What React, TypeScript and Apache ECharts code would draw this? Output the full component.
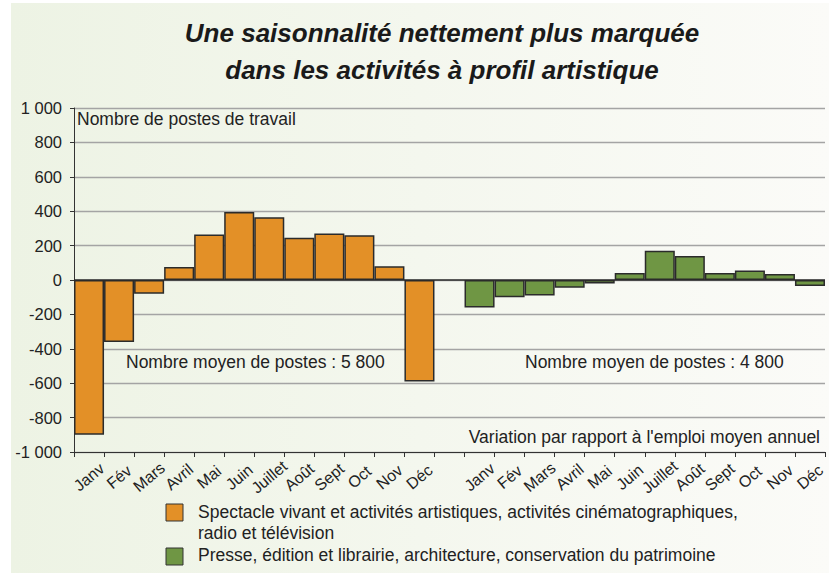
import React, { useEffect, useRef } from "react";
import * as echarts from "echarts";

const months = ["Janv", "Fév", "Mars", "Avril", "Mai", "Juin", "Juillet", "Août", "Sept", "Oct", "Nov", "Déc"];
const categories = [...months, "", ...months];
const spectacle = [-900, -360, -80, 75, 265, 395, 365, 245, 270, 260, 80, -590];
const presse = [-160, -100, -90, -45, -20, 40, 170, 140, 40, 55, 35, -35];
const yTicks = { min: -1000, max: 1000, interval: 200 };
const titleText = "Une saisonnalité nettement plus marquée\ndans les activités à profil artistique";
const seriesNames = [
  "Spectacle vivant et activités artistiques, activités cinématographiques,\nradio et télévision",
  "Presse, édition et librairie, architecture, conservation du patrimoine",
];

const FONT = "'Liberation Sans', Arial, sans-serif";
const ORANGE = "#E39027";
const GREEN = "#6F9644";
const TXT = 17.5;

function fmt(v: number) {
  const s = Math.abs(v).toString().replace(/\B(?=(\d{3})+(?!\d))/g, " ");
  return (v < 0 ? "-" : "") + s;
}

export default function App() {
  const ref = useRef<HTMLDivElement>(null);
  useEffect(() => {
    if (!ref.current) return;
    const chart = echarts.init(ref.current, null, { renderer: "svg" });
    const pad = (n: number) => Array(n).fill(null);
    const option: any = {
      animation: false,
      textStyle: { fontFamily: FONT },
      title: {
        text: titleText,
        left: 437,
        top: 9,
        textAlign: "center",
        textStyle: {
          fontFamily: FONT,
          fontSize: 26,
          fontStyle: "italic",
          fontWeight: "bold",
          lineHeight: 37,
          color: "#1a1a1a",
        },
      },
      grid: { left: 74, right: 4, top: 108, bottom: 121 },
      xAxis: {
        type: "category",
        data: categories,
        boundaryGap: true,
        axisLine: { onZero: false, lineStyle: { color: "#333", width: 1 } },
        axisTick: { show: true, alignWithLabel: false, length: 5, lineStyle: { color: "#333" } },
        axisLabel: {
          interval: 0,
          rotate: 40,
          align: "center",
          verticalAlign: "middle",
          margin: 25,
          fontSize: 16,
          color: "#222",
          fontFamily: FONT,
        },
      },
      yAxis: {
        type: "value",
        min: yTicks.min,
        max: yTicks.max,
        interval: yTicks.interval,
        axisLine: { show: true, lineStyle: { color: "#333", width: 1 } },
        axisTick: { show: true, length: 4, lineStyle: { color: "#333" } },
        axisLabel: { formatter: fmt, fontSize: 16.5, color: "#222", margin: 12, fontFamily: FONT },
        splitLine: { lineStyle: { color: "#a4a4a4", width: 1.3 } },
      },
      graphic: [
        {
          type: "rect",
          z: -10,
          silent: true,
          shape: { x: 11, y: 3, width: 818, height: 570 },
          style: {
            fill: new echarts.graphic.LinearGradient(0, 0, 1, 0, [
              { offset: 0, color: "#edf3e4" },
              { offset: 1, color: "#fbfbf8" },
            ]),
          },
        },
        {
          type: "text",
          left: 77,
          top: 110,
          style: { text: "Nombre de postes de travail", font: `${TXT}px ${FONT}`, fill: "#222" },
        },
        {
          type: "text",
          left: 126,
          top: 353,
          style: { text: "Nombre moyen de postes : 5 800", font: `${TXT}px ${FONT}`, fill: "#222" },
        },
        {
          type: "text",
          left: 525,
          top: 353,
          style: { text: "Nombre moyen de postes : 4 800", font: `${TXT}px ${FONT}`, fill: "#222" },
        },
        {
          type: "text",
          right: 9,
          top: 428,
          style: { text: "Variation par rapport à l'emploi moyen annuel", font: `${TXT}px ${FONT}`, fill: "#222" },
        },
        {
          type: "rect",
          shape: { x: 166, y: 504, width: 17, height: 17 },
          style: { fill: ORANGE, stroke: "#333", lineWidth: 1 },
        },
        {
          type: "text",
          left: 198,
          top: 501,
          style: { text: seriesNames[0], font: `${TXT}px ${FONT}`, fill: "#222", lineHeight: 21 },
        },
        {
          type: "rect",
          shape: { x: 166, y: 548, width: 17, height: 17 },
          style: { fill: GREEN, stroke: "#333", lineWidth: 1 },
        },
        {
          type: "text",
          left: 198,
          top: 546,
          style: { text: seriesNames[1], font: `${TXT}px ${FONT}`, fill: "#222" },
        },
      ],
      series: [
        {
          name: seriesNames[0],
          type: "bar",
          stack: "s",
          barWidth: "100%",
          data: [...spectacle, ...pad(13)],
          itemStyle: { color: ORANGE, borderColor: "#2b2b2b", borderWidth: 1.5 },
          markLine: {
            silent: true,
            symbol: "none",
            label: { show: false },
            lineStyle: { color: "#2b2b2b", width: 1.5, type: "solid" },
            data: [{ yAxis: 0 }],
          },
        },
        {
          name: seriesNames[1],
          type: "bar",
          stack: "s",
          barWidth: "100%",
          data: [...pad(13), ...presse],
          itemStyle: { color: GREEN, borderColor: "#2b2b2b", borderWidth: 1.5 },
        },
      ],
    };
    chart.setOption(option);
    return () => chart.dispose();
  }, []);
  return (
    <div
      ref={ref}
      style={{ position: "fixed", left: 0, top: 0, width: 829, height: 573, background: "#ffffff" }}
    />
  );
}
